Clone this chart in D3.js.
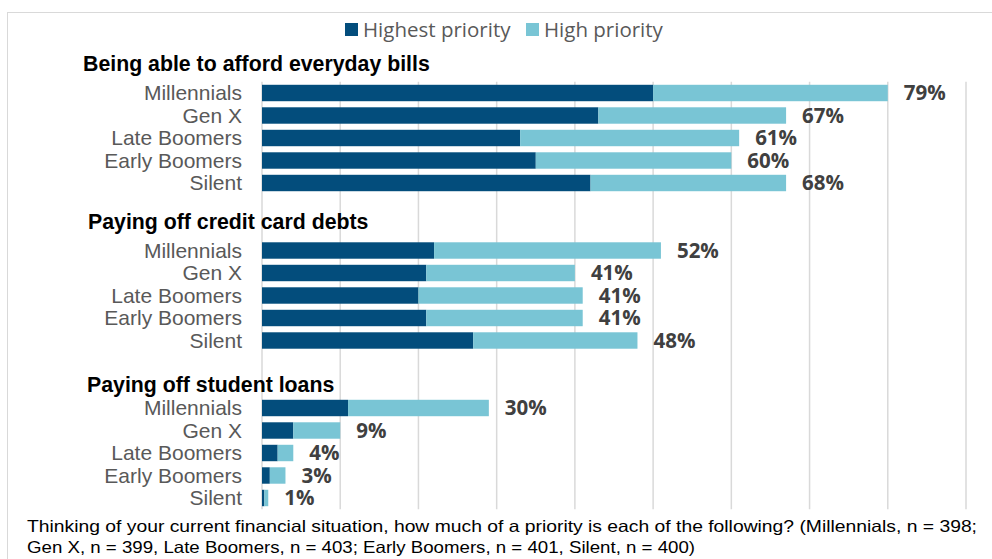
<!DOCTYPE html>
<html>
<head>
<meta charset="utf-8">
<script src="https://cdn.jsdelivr.net/npm/d3@7"></script>
<style>
  body { margin: 0; background: #fff; }
  svg { display: block; }
</style>
</head>
<body>
<script>
// groups of the chart, in order from top to bottom
var groups = ["Being able to afford everyday bills", "Paying off credit card debts", "Paying off student loans"];
var generations = ["Millennials", "Gen X", "Late Boomers", "Early Boomers", "Silent"];
var seriesNames = ["Highest priority", "High priority"];

// values in %, one row per group, one entry per generation
var highest = [
    [50, 43, 33, 35, 42],
    [22, 21, 20, 21, 27],
    [11, 4, 2, 1, 0.3]
];
var high = [
    [30, 24, 28, 25, 25],
    [29, 19, 21, 20, 21],
    [18, 6, 2, 2, 0.5]
];
var totals = [
    [79, 67, 61, 60, 68],
    [52, 41, 41, 41, 48],
    [30, 9, 4, 3, 1]
];
var xTicks = [0, 10, 20, 30, 40, 50, 60, 70, 80, 90];

var footnote = [
    "Thinking of your current financial situation, how much of a priority is each of the following? (Millennials, n = 398;",
    "Gen X, n = 399, Late Boomers, n = 403; Early Boomers, n = 401, Silent, n = 400)"
];

var colors = ["#034d7c", "#79c5d5"];

var width = 992, height = 559;

var svg = d3.select("body")
    .append("svg")
    .attr("width", width)
    .attr("height", height);

// chart frame
svg.append("rect")
    .attr("x", 7.5).attr("y", 12.5)
    .attr("width", 1000).attr("height", 600)
    .attr("fill", "none")
    .attr("stroke", "#d9d9d9")
    .attr("stroke-width", 1);

// one row per header, per bar and a blank spacer between groups
var rows = [];
groups.forEach(function(g, gi) {
    rows.push("h" + gi);
    generations.forEach(function(gen) { rows.push(gi + "|" + gen); });
    if (gi < groups.length - 1) rows.push("s" + gi);
});

var yscale = d3.scaleBand()
    .domain(rows)
    .range([59.25, 59.25 + rows.length * 22.5])
    .paddingInner(0.27)
    .paddingOuter(0.135);

var xscale = d3.scaleLinear()
    .domain([0, 90])
    .range([262, 966]);

// vertical gridlines
var gridTop = yscale("0|Millennials") - yscale.step() * yscale.paddingInner() / 2;
var gridBottom = yscale.range()[1];
svg.append("g")
    .selectAll("line")
    .data(xTicks)
    .enter()
    .append("line")
    .attr("x1", function(d) { return xscale(d); })
    .attr("x2", function(d) { return xscale(d); })
    .attr("y1", gridTop)
    .attr("y2", gridBottom)
    .attr("stroke", "#d9d9d9")
    .attr("stroke-width", 1.5);

// flatten data for drawing
var bars = [];
groups.forEach(function(g, gi) {
    generations.forEach(function(gen, i) {
        bars.push({
            key: gi + "|" + gen,
            gen: gen,
            highest: highest[gi][i],
            high: high[gi][i],
            total: totals[gi][i]
        });
    });
});

var barG = svg.append("g");
// dark segment
barG.selectAll("rect.highest")
    .data(bars)
    .enter()
    .append("rect")
    .attr("class", "highest")
    .attr("x", xscale(0))
    .attr("y", function(d) { return yscale(d.key); })
    .attr("width", function(d) { return xscale(d.highest) - xscale(0); })
    .attr("height", yscale.bandwidth())
    .attr("fill", colors[0]);
// light segment
barG.selectAll("rect.high")
    .data(bars)
    .enter()
    .append("rect")
    .attr("class", "high")
    .attr("x", function(d) { return xscale(d.highest); })
    .attr("y", function(d) { return yscale(d.key); })
    .attr("width", function(d) { return xscale(d.highest + d.high) - xscale(d.highest); })
    .attr("height", yscale.bandwidth())
    .attr("fill", colors[1]);

// total labels
svg.append("g")
    .selectAll("text")
    .data(bars)
    .enter()
    .append("text")
    .attr("x", function(d) { return xscale(d.highest + d.high) + 16; })
    .attr("y", function(d) { return yscale(d.key) + yscale.bandwidth() / 2; })
    .attr("dy", "0.36em")
    .style("font-family", "'Open Sans', sans-serif")
    .style("font-weight", "bold")
    .style("font-size", "20.5px")
    .style("fill", "#404040")
    .text(function(d) { return d.total + "%"; });

// generation labels
svg.append("g")
    .selectAll("text")
    .data(bars)
    .enter()
    .append("text")
    .attr("x", 242)
    .attr("y", function(d) { return yscale(d.key) + yscale.bandwidth() / 2; })
    .attr("dy", "0.35em")
    .attr("text-anchor", "end")
    .style("font-family", "'Liberation Sans', Arial, sans-serif")
    .style("font-size", "21px")
    .style("fill", "#595959")
    .text(function(d) { return d.gen; });

// group headers
var headerX = [83, 88, 87];
var headerDy = [0, 1, 6];
svg.append("g")
    .selectAll("text")
    .data(groups)
    .enter()
    .append("text")
    .attr("x", function(d, i) { return headerX[i]; })
    .attr("y", function(d, i) { return yscale("h" + i) + yscale.bandwidth() / 2 + headerDy[i]; })
    .style("font-family", "'Liberation Sans', Arial, sans-serif")
    .style("font-weight", "bold")
    .style("font-size", "21.3px")
    .style("fill", "#000")
    .text(function(d) { return d; });

// legend
var legendX = [345, 526];
var legend = svg.append("g")
    .selectAll("g")
    .data(seriesNames)
    .enter()
    .append("g");
legend.append("rect")
    .attr("x", function(d, i) { return legendX[i]; })
    .attr("y", 23)
    .attr("width", 13)
    .attr("height", 13)
    .attr("fill", function(d, i) { return colors[i]; });
legend.append("text")
    .attr("x", function(d, i) { return legendX[i] + 18; })
    .attr("y", 36.5)
    .style("font-family", "'Open Sans', sans-serif")
    .style("font-size", "20.5px")
    .style("fill", "#595959")
    .text(function(d) { return d; });

// footnote
var noteWidth = [950, 668];
svg.append("g")
    .selectAll("text")
    .data(footnote)
    .enter()
    .append("text")
    .attr("x", 27)
    .attr("y", function(d, i) { return 532 + i * 21; })
    .attr("textLength", function(d, i) { return noteWidth[i]; })
    .attr("lengthAdjust", "spacingAndGlyphs")
    .style("font-family", "'Liberation Sans Narrow', 'Arial Narrow', 'Liberation Sans', sans-serif")
    .style("font-size", "16.5px")
    .style("fill", "#000")
    .text(function(d) { return d; });
</script>
</body>
</html>
